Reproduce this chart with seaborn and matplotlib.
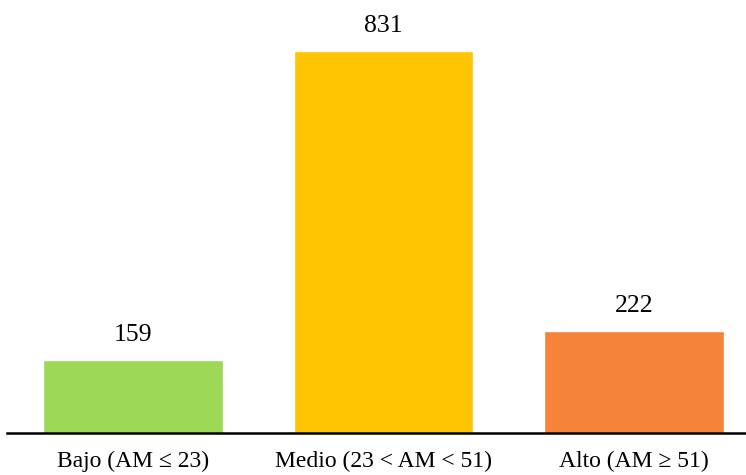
import matplotlib
matplotlib.use("Agg")
import matplotlib.pyplot as plt
import seaborn as sns
import pandas as pd

categories = ["Bajo (AM ≤ 23)", "Medio (23 < AM < 51)", "Alto (AM ≥ 51)"]
counts = [159, 831, 222]
colors = ["#9DD856", "#FFC502", "#F5843A"]

sns.set_theme(style="white")
plt.rcParams["font.family"] = ["Liberation Serif", "DejaVu Serif"]

df = pd.DataFrame({"nivel": categories, "n": counts})

fig = plt.figure(figsize=(7.46, 4.75), dpi=100)
ax = fig.add_axes([7 / 746, 42 / 475, 739 / 746, 433 / 475])

sns.barplot(data=df, x="nivel", y="n", hue="nivel", palette=colors,
            width=0.715, saturation=1, legend=False, ax=ax)

for i, v in enumerate(counts):
    ax.annotate(f"{v}", (i, v), xytext=(0, 10), textcoords="offset points",
                ha="center", va="bottom", fontsize=18.5, color="black")

ax.set_xlim(-0.503, 2.447)
ax.set_ylim(0, 942)
ax.set_xlabel("")
ax.set_ylabel("")
ax.set_yticks([])
ax.tick_params(axis="x", length=0, pad=13, labelsize=17, colors="black")
for s in ["top", "right", "left"]:
    ax.spines[s].set_visible(False)
ax.spines["bottom"].set_color("black")
ax.spines["bottom"].set_linewidth(1.8)

fig.savefig("out.png", dpi=100)
